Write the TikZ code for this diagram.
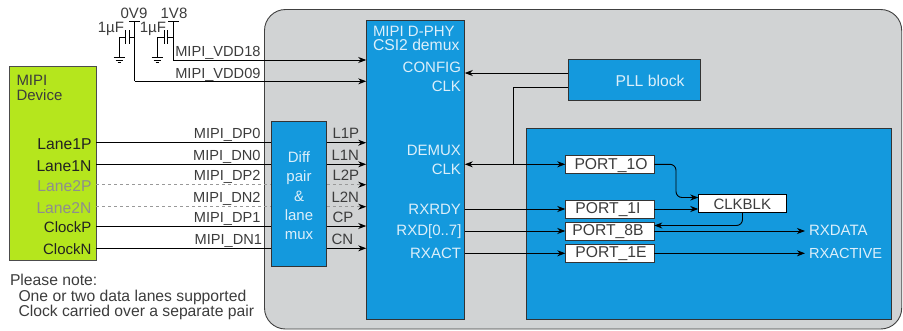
\documentclass[tikz,border=0pt]{standalone}
\usepackage{fontspec}
\setmainfont{Liberation Sans}
\usetikzlibrary{arrows.meta}
\definecolor{chipgray}{HTML}{D1D3D4}
\definecolor{blockblue}{HTML}{1499DD}
\definecolor{devgreen}{HTML}{B5E61D}
\definecolor{paletext}{HTML}{DCEFFA}
\definecolor{darktext}{HTML}{3C3C3C}
\definecolor{lanetext}{HTML}{222222}
\definecolor{fadetext}{HTML}{8E8E8E}
\tikzset{
  x=1pt,y=-1pt,
  every node/.style={inner sep=0pt,outer sep=0pt,font=\fontsize{15}{17}\selectfont,text=darktext},
  block/.style={draw=black!80,line width=.9pt,fill=blockblue,minimum width=#1},
  portbox/.style={draw=black!80,line width=.9pt,fill=white,minimum height=18pt,minimum width=89pt},
  lbl/.style={anchor=base east},
  lbll/.style={anchor=base west},
  pale/.style={text=paletext},
  notefont/.style={font=\fontsize{15.7}{17}\selectfont},
  sigfont/.style={font=\fontsize{14.6}{17}\selectfont},
  wire/.style={line width=.9pt,draw=black},
  dashwire/.style={line width=.9pt,draw=black!40,dash pattern=on 3pt off 3pt},
  sig/.style={wire,-{Stealth[length=8pt,width=6pt,inset=2.5pt,color=black]}},
  dashsig/.style={dashwire,-{Stealth[length=8pt,width=6pt,inset=2.5pt,color=black]}},
}
\begin{document}
\begin{tikzpicture}
\useasboundingbox (0,0) rectangle (903,330);
% chip outline
\draw[draw=black!75,line width=.9pt,fill=chipgray,rounded corners=21pt] (264.5,9.5) rectangle (901.7,329);
% device
\node[draw=black!70,line width=.9pt,fill=devgreen,minimum width=87pt,minimum height=194pt] (dev) at (52.5,163) {};
% blocks
\node[block=55.5pt,minimum height=145pt] (mux) at (299,194.2) {};
\node[block=98.5pt,minimum height=298.5pt] (demux) at (415.5,169.75) {};
\node[block=132pt,minimum height=41pt] (pll) at (634,80) {};
\node[block=365pt,minimum height=191pt] (sub) at (709.2,223.8) {};
\node[portbox] (p1o) at (609.8,164.3) {};
\node[portbox] (p1i) at (609.8,209) {};
\node[portbox] (p8b) at (609.8,231) {};
\node[portbox] (p1e) at (609.8,253.3) {};
\node[draw=black,line width=.9pt,fill=white,minimum width=88.4pt,minimum height=18.3pt] (clk) at (742.5,203.2) {};
% pins
\coordinate (dl1p) at (dev.east |- 0,142.7);
\coordinate (dl1n) at (dev.east |- 0,164.3);
\coordinate (dl2p) at (dev.east |- 0,184.7);
\coordinate (dl2n) at (dev.east |- 0,206.7);
\coordinate (dcp) at (dev.east |- 0,226);
\coordinate (dcn) at (dev.east |- 0,248.3);
\coordinate (top09) at (134.5,21);
\coordinate (top18) at (173,21);
\coordinate (bend09) at (134.5,81.3);
\coordinate (bend18) at (173,60);
\coordinate (pllclk) at (513,87.3);
\coordinate (pllbend) at (513,164.3);
% supply nets
\draw[wire] (top09) -- (bend09);
\draw[sig] (bend09) -- (demux.west |- bend09);
\draw[wire] (top18) -- (bend18);
\draw[sig] (bend18) -- (demux.west |- bend18);
\draw[wire] (129,21) -- (140,21);
\draw[wire] (168,21) -- (178.5,21);
% capacitors and grounds
\foreach \wx/\pa/\pb/\gx/\tx in {134.5/129/125.5/119/119,173/167.5/164/157/157}{
  \draw[wire] (\wx,37) -- (\pa,37);
  \draw[wire] (\pa,30) -- (\pa,44);
  \draw[wire] (\pb,30) -- (\pb,44);
  \draw[wire] (\pb,37) -- (\gx,37) -- (\gx,57.7);
  \draw[wire,line width=.7pt] (\gx-5.5,57.7) -- (\gx+5.5,57.7);
  \draw[wire,line width=.7pt] (\gx-3.5,60) -- (\gx+3.5,60);
  \draw[wire,line width=.7pt] (\gx-1.5,62.2) -- (\gx+1.5,62.2);
}
% device to mux to demux
\foreach \p in {dl1p,dl1n,dcp,dcn}{
  \draw[wire] (\p) -- (mux.west |- \p);
  \draw[sig] (mux.east |- \p) -- (demux.west |- \p);
}
\foreach \p in {dl2p,dl2n}{
  \draw[dashwire] (\p) -- (mux.west |- \p);
  \draw[dashsig] (mux.east |- \p) -- (demux.west |- \p);
}
% PLL
\coordinate (pllcfg) at (pll.west |- 0,73);
\draw[sig] (pllcfg) -- (demux.east |- pllcfg);
\draw[wire] (pll.west |- pllclk) -- (pllclk) -- (pllbend);
% outputs
\draw[wire,{Stealth[length=8pt,width=6pt,inset=2.5pt]}-{Stealth[length=8pt,width=6pt,inset=2.5pt]}] (demux.east |- p1o) -- (p1o.west);
\draw[sig] (demux.east |- p1i) -- (p1i.west);
\draw[sig] (demux.east |- p8b) -- (p8b.west);
\draw[sig] (demux.east |- p1e) -- (p1e.west);
\coordinate (clkin) at (clk.west |- 0,197.5);
\draw[sig,rounded corners=6pt] (p1o.east) -- (676,164.3) -- (676,197.5) -- (clkin);
\draw[sig] (p1i.east) -- (clk.west |- p1i);
\draw[sig,rounded corners=6pt] (clk.south) -- (clk.south |- 0,225.5) -- (p8b.east |- 0,225.5);
\coordinate (rxd) at (805,231);
\coordinate (rxa) at (805,253.3);
\draw[sig] (p8b.east) -- (rxd);
\draw[sig] (p1e.east) -- (rxa);
% labels
\node[lbl,sigfont] (n18) at (260.5,56.7) {MIPI\_VDD18};
\node[lbl,sigfont] (n09) at (260.5,78.7) {MIPI\_VDD09};
\node[anchor=base] (v09) at (134,18) {0V9};
\node[anchor=base] (v18) at (174,18) {1V8};
\node[lbl] (c09) at (124,32) {1µF};
\node[lbl] (c18) at (166,32) {1µF};
\node[lbl,sigfont] (ndp0) at (260.5,138.3) {MIPI\_DP0};
\node[lbl,sigfont] (ndn0) at (260.5,160) {MIPI\_DN0};
\node[lbl,sigfont] (ndp2) at (260.5,180) {MIPI\_DP2};
\node[lbl,sigfont] (ndn2) at (260.5,202.3) {MIPI\_DN2};
\node[lbl,sigfont] (ndp1) at (260.5,222) {MIPI\_DP1};
\node[lbl,sigfont] (ndn1) at (262,244.3) {MIPI\_DN1};
\node[lbll] (devt1) at (16.5,85.3) {MIPI};
\node[lbll] (devt2) at (16.5,100) {Device};
\node[lbl,text=lanetext,notefont] (t1p) at (91.5,149.3) {Lane1P};
\node[lbl,text=lanetext,notefont] (t1n) at (91.5,171) {Lane1N};
\node[lbl,text=fadetext,notefont] (t2p) at (91.5,191.3) {Lane2P};
\node[lbl,text=fadetext,notefont] (t2n) at (91.5,213.3) {Lane2N};
\node[lbl,text=lanetext] (tcp) at (91.5,232) {ClockP};
\node[lbl,text=lanetext] (tcn) at (91.5,254) {ClockN};
\node[lbll,notefont] (note1) at (10,285) {Please note:};
\node[lbll,notefont] (note2) at (18.5,301.7) {One or two data lanes supported};
\node[lbll,notefont] (note3) at (18.5,316.7) {Clock carried over a separate pair};
\node[lbll] (l1p) at (332.5,138.3) {L1P};
\node[lbll] (l1n) at (331.5,160) {L1N};
\node[lbll] (l2p) at (332.5,180.5) {L2P};
\node[lbll] (l2n) at (331.5,202.5) {L2N};
\node[lbll] (lcp) at (332.5,222.3) {CP};
\node[lbll] (lcn) at (331.5,244.3) {CN};
\node[anchor=base,pale] (m1) at (299,162) {Diff};
\node[anchor=base,pale] (m2) at (299,181) {pair};
\node[anchor=base,pale] (m3) at (299,201) {\&};
\node[anchor=base,pale] (m4) at (299,220.7) {lane};
\node[anchor=base,pale] (m5) at (299,239) {mux};
\node[lbll,pale] (d1) at (373,36) {MIPI D-PHY};
\node[lbll,pale,notefont] (d2) at (373,50.7) {CSI2 demux};
\node[lbl,pale] (d3) at (461,72) {CONFIG};
\node[lbl,pale] (d4) at (461,91) {CLK};
\node[lbl,pale] (d5) at (461,155) {DEMUX};
\node[lbl,pale] (d6) at (461,174) {CLK};
\node[lbl,pale] (d7) at (461,214) {RXRDY};
\node[lbl,pale] (d8) at (461.5,235.7) {RXD[0..7]};
\node[lbl,pale] (d9) at (461,258.3) {RXACT};
\node[anchor=base,pale,notefont] (pt) at (650,86.7) {PLL block};
\node[anchor=base,notefont] (q1) at (611,169.3) {PORT\_1O};
\node[anchor=base,notefont] (q2) at (608,213.3) {PORT\_1I};
\node[anchor=base,notefont] (q3) at (608,235) {PORT\_8B};
\node[anchor=base,notefont] (q4) at (611,257.7) {PORT\_1E};
\node[anchor=base] (q5) at (742.3,209.3) {CLKBLK};
\node[lbll,pale] (o1) at (809,235) {RXDATA};
\node[lbll,pale,sigfont] (o2) at (809,258.3) {RXACTIVE};
\end{tikzpicture}
\end{document}
